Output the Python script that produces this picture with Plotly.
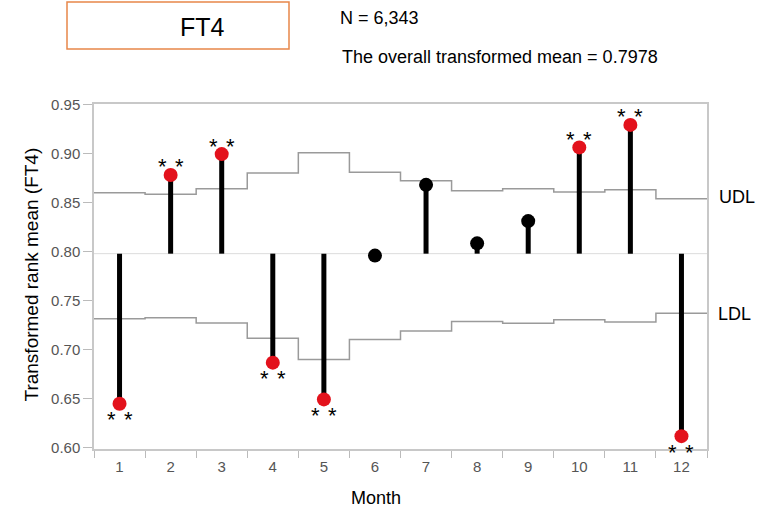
import plotly.graph_objects as go

months = list(range(1, 13))
month_labels = [str(m) for m in months]
means = [0.6447, 0.8781, 0.8994, 0.6866, 0.6491, 0.7958, 0.8680, 0.8083, 0.8310, 0.9062, 0.9292, 0.6116]
udl = [0.8599, 0.8583, 0.8640, 0.8800, 0.9008, 0.8809, 0.8723, 0.8620, 0.8640, 0.8606, 0.8630, 0.8538]
ldl = [0.7314, 0.7324, 0.7270, 0.7115, 0.6899, 0.7101, 0.7189, 0.7287, 0.7267, 0.7304, 0.7280, 0.7371]
significant = [True, True, True, True, True, False, False, False, False, True, True, True]
overall_mean = 0.7978
n_total = "6,343"
y_ticks = [0.60, 0.65, 0.70, 0.75, 0.80, 0.85, 0.90, 0.95]

FONT = "Liberation Sans, Arial, sans-serif"
RED = "#E3121C"

fig = go.Figure()

# step limits
step_x = [m - 0.5 for m in months] + [months[-1] + 0.5]
fig.add_trace(go.Scatter(x=step_x, y=udl + [udl[-1]], mode="lines", line=dict(color="#9a9a9a", width=1.5, shape="hv"),
                         hoverinfo="skip", showlegend=False))
fig.add_trace(go.Scatter(x=step_x, y=ldl + [ldl[-1]], mode="lines", line=dict(color="#9a9a9a", width=1.5, shape="hv"),
                         hoverinfo="skip", showlegend=False))

# stems
sx, sy = [], []
for m, v in zip(months, means):
    sx += [m, m, None]
    sy += [overall_mean, v, None]
fig.add_trace(go.Scatter(x=sx, y=sy, mode="lines", line=dict(color="black", width=5), showlegend=False, hoverinfo="skip"))

# points
colors = [RED if s else "black" for s in significant]
fig.add_trace(go.Scatter(x=months, y=means, mode="markers",
                         marker=dict(color=colors, size=14, line=dict(width=0)), showlegend=False))

annotations = []
for m, v, s in zip(months, means, significant):
    if not s:
        continue
    above = v > overall_mean
    ys = 8 if above else -16
    for xs in (-8.5, 8.5):
        annotations.append(dict(x=m, y=v, xref="x", yref="y", text="*", showarrow=False,
                                xshift=xs, yshift=ys, font=dict(family=FONT, size=22, color="black")))

# header
annotations += [
    dict(x=178, y=509 - 27, xref="paper", yref="paper", text="FT4", showarrow=False),
    dict(x=338, y=509 - 18, xref="paper", yref="paper", text="N = " + n_total, showarrow=False, xanchor="left"),
    dict(x=340, y=509 - 57, xref="paper", yref="paper", text="The overall transformed mean = " + str(overall_mean),
         showarrow=False, xanchor="left"),
    dict(x=717, y=509 - 197, xref="paper", yref="paper", text="UDL", showarrow=False, xanchor="left"),
    dict(x=716, y=509 - 314, xref="paper", yref="paper", text="LDL", showarrow=False, xanchor="left"),
    dict(x=376, y=509 - 498, xref="paper", yref="paper", text="Month", showarrow=False),
    dict(x=18, y=509 - 275, xref="paper", yref="paper", text="Transformed rank mean (FT4)", showarrow=False, textangle=-90),
]

# convert pixel-specified paper annotations
L, R, T, B = 94, 50, 104, 60
W, H = 757, 509
pw, ph = W - L - R, H - T - B
sizes = {"FT4": 25, "UDL": 18, "LDL": 18, "Month": 18, "Transformed rank mean (FT4)": 19}
for a in annotations:
    if a.get("xref") == "paper":
        a["x"] = (a["x"] - L) / pw
        a["y"] = (a["y"] - B) / ph
        a["yanchor"] = "middle"
        size = sizes.get(a["text"], 18)
        a["font"] = dict(family=FONT, size=size, color="black")

fig.update_layout(
    width=W, height=H,
    margin=dict(l=L, r=R, t=T, b=B),
    paper_bgcolor="white", plot_bgcolor="white",
    annotations=annotations,
    shapes=[
        dict(type="line", xref="paper", yref="y", x0=0, x1=1, y0=overall_mean, y1=overall_mean,
             line=dict(color="#dcdcdc", width=1), layer="below"),
        dict(type="rect", xref="paper", yref="paper",
             x0=(67 - L) / pw, x1=(289 - L) / pw, y0=(H - 49 - B) / ph, y1=(H - 2 - B) / ph,
             line=dict(color="#E8874A", width=1.5), fillcolor="white"),
    ],
)

fig.update_xaxes(range=[0.5, 12.5], tickvals=months, ticktext=month_labels,
                 ticks="outside", ticklen=3, tickcolor="rgba(0,0,0,0)",
                 minor=dict(tickvals=step_x, ticks="outside", ticklen=7, tickcolor="#bbbbbb", tickwidth=1),
                 showgrid=False, zeroline=False, showline=True, linecolor="#c8c8c8", linewidth=1.5, mirror=True,
                 tickfont=dict(family=FONT, size=15, color="#555555"))
fig.update_yaxes(range=[0.5985, 0.9505], tickvals=y_ticks, tickformat=".2f",
                 ticks="outside", ticklen=9, tickcolor="#bbbbbb",
                 showgrid=False, zeroline=False, showline=True, linecolor="#c8c8c8", linewidth=1.5, mirror=True,
                 tickfont=dict(family=FONT, size=15, color="#555555"))

fig.write_html("out.html", config={"displayModeBar": False}, post_script="document.body.style.margin='0';")
